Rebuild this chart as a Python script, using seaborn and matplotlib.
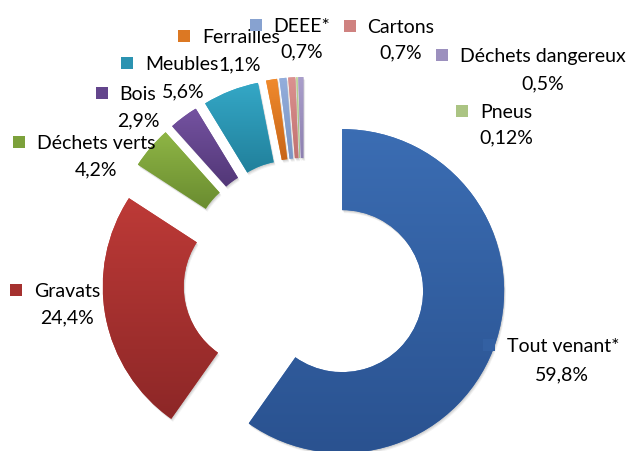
import numpy as np
import matplotlib
matplotlib.use("Agg")
import matplotlib.pyplot as plt
import matplotlib.colors as mcolors
from matplotlib.patches import Rectangle, Wedge
import seaborn as sns

categories = ["Tout venant*", "Gravats", "Déchets verts", "Bois", "Meubles",
              "Ferrailles", "DEEE*", "Cartons", "Pneus", "Déchets dangereux"]
shares = [59.8, 24.4, 4.2, 2.9, 5.6, 1.1, 0.7, 0.7, 0.12, 0.5]
share_labels = ["59,8%", "24,4%", "4,2%", "2,9%", "5,6%",
                "1,1%", "0,7%", "0,7%", "0,12%", "0,5%"]

# gradient colours, lighter at the top of each slice
top_colors = ["#3B6DB3", "#BD3A37", "#8EB545", "#7452A0", "#34A7C6",
              "#F08A2C", "#93AEDC", "#DB9290", "#BBD494", "#AA9FCB"]
bottom_colors = ["#2A5290", "#8D2727", "#6A8C30", "#523777", "#21809B",
                 "#C8661A", "#7B95C4", "#C27270", "#9AB472", "#8D80B0"]

# label layout, pixels from the top-left corner:
# name centre x, name baseline, percent centre x, percent baseline
label_layout = {
    "Tout venant*": (563, 352, 562, 380),
    "Gravats": (67, 297, 67, 323),
    "Déchets verts": (96, 149, 96, 175),
    "Bois": (138, 100, 138, 126),
    "Meubles": (182, 70, 183, 97),
    "Ferrailles": (241, 43, 240, 70),
    "DEEE*": (302, 32, 302, 57),
    "Cartons": (401, 33, 401, 58),
    "Déchets dangereux": (543, 62, 543, 89),
    "Pneus": (506, 118, 506, 143),
}

W, H = 628, 451
sns.set_style("white")
plt.rcParams["font.family"] = ["Lato", "DejaVu Sans"]
FS = 14

fig = plt.figure(figsize=(W / 100, H / 100), dpi=100)
ax = fig.add_axes([0, 0, 1, 1])

wedges, _ = ax.pie(shares, radius=162, center=(304, H - 279), startangle=90,
                   counterclock=False, explode=[40] * len(shares),
                   colors=top_colors, normalize=True,
                   wedgeprops=dict(width=81, linewidth=0))

for w, c_top, c_bot in zip(wedges, top_colors, bottom_colors):
    # soft drop shadow
    for k, a in [(3.0, 0.05), (2.0, 0.07), (1.0, 0.08)]:
        ax.add_patch(Wedge((w.center[0] + k * 0.6, w.center[1] - k), w.r,
                           w.theta1, w.theta2, width=w.width,
                           facecolor="black", alpha=a, linewidth=0, zorder=0.5))
    ext = w.get_path().get_extents()
    t = np.linspace(0, 1, 64)[:, None, None]
    grad = np.array(mcolors.to_rgb(c_bot)) * (1 - t) + np.array(mcolors.to_rgb(c_top)) * t
    im = ax.imshow(grad, extent=(ext.x0, ext.x1, ext.y0, ext.y1), origin="lower",
                   aspect="auto", interpolation="bilinear", zorder=2)
    im.set_clip_path(w)

ax.set_xlim(0, W)
ax.set_ylim(0, H)
ax.set_aspect("equal")
ax.axis("off")

renderer = fig.canvas.get_renderer()
for name, pct, c_top, c_bot in zip(categories, share_labels, top_colors, bottom_colors):
    nx, ny, px, py = label_layout[name]
    txt = ax.text(nx, H - ny, name, ha="center", va="baseline", fontsize=FS,
                  color="black", zorder=5)
    ax.text(px, H - py, pct, ha="center", va="baseline", fontsize=FS,
            color="black", zorder=5)
    bb = txt.get_window_extent(renderer)
    mid = (np.array(mcolors.to_rgb(c_top)) + np.array(mcolors.to_rgb(c_bot))) / 2
    ax.add_patch(Rectangle((bb.x0 - 24, H - ny + 1), 12, 12,
                           facecolor=mid, linewidth=0, zorder=5))

fig.savefig("out.png", dpi=100)
